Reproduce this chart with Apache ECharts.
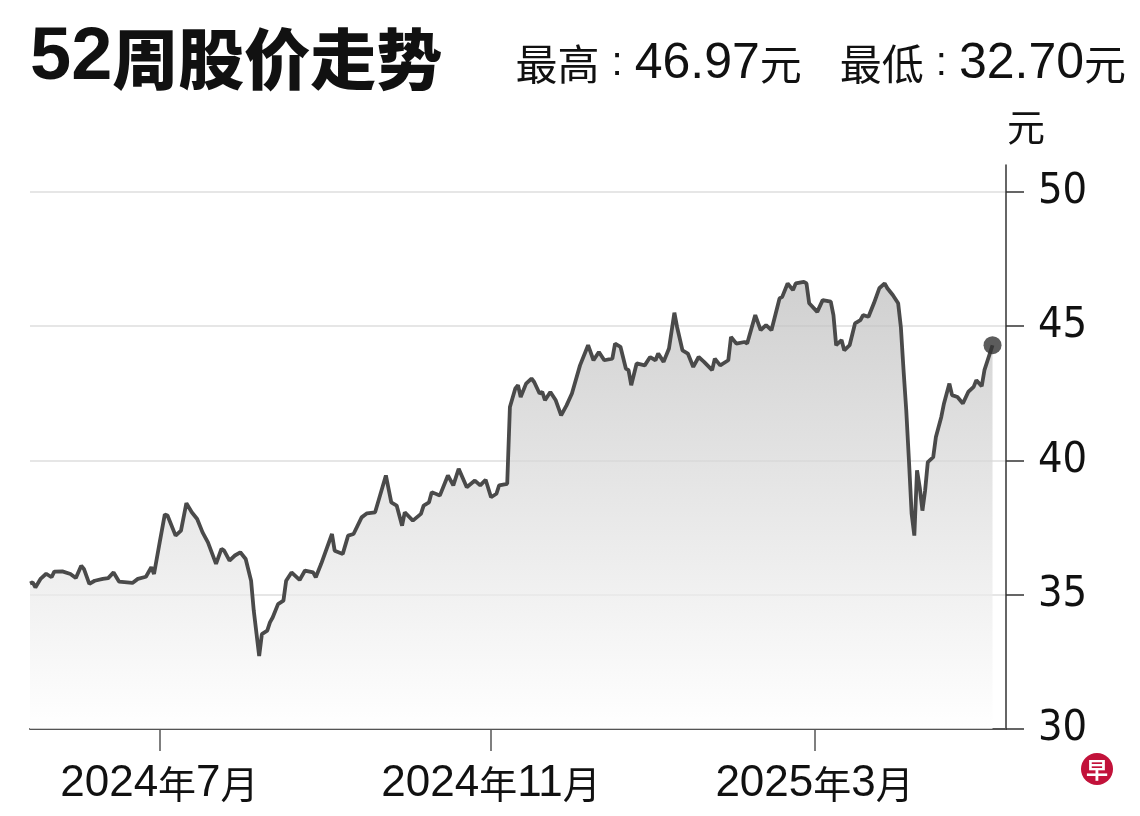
<!DOCTYPE html>
<html>
<head>
<meta charset="utf-8">
<script src="https://cdn.jsdelivr.net/npm/echarts@6/dist/echarts.min.js"></script>
<style>html,body{margin:0;padding:0;background:#fff;}#c{width:1140px;height:816px;}</style>
</head>
<body>
<div id="c"></div>
<script>
const titleText = '52周股价走势';
const highLabel = '46.97';
const lowLabel = '32.70';
const unitLabel = '元';
const yTicks = [30, 35, 40, 45, 50];
const xTickDates = ['2024-07-01', '2024-11-01', '2025-03-01'];

const dates = [
'2024-05-14','2024-05-15','2024-05-16','2024-05-18','2024-05-20','2024-05-22','2024-05-23','2024-05-26','2024-05-29','2024-05-31',
'2024-06-02','2024-06-03','2024-06-05','2024-06-07','2024-06-10','2024-06-12','2024-06-14','2024-06-16','2024-06-21','2024-06-23',
'2024-06-26','2024-06-28','2024-06-29','2024-07-01','2024-07-03','2024-07-04','2024-07-07','2024-07-09','2024-07-11','2024-07-13',
'2024-07-15','2024-07-17','2024-07-19','2024-07-22','2024-07-24','2024-07-25','2024-07-27','2024-07-29','2024-07-31','2024-08-02',
'2024-08-04','2024-08-05','2024-08-07','2024-08-08','2024-08-10','2024-08-11','2024-08-12','2024-08-14','2024-08-16','2024-08-17',
'2024-08-19','2024-08-22','2024-08-24','2024-08-27','2024-08-28','2024-08-30','2024-09-03','2024-09-04','2024-09-07','2024-09-09',
'2024-09-11','2024-09-14','2024-09-16','2024-09-19','2024-09-23','2024-09-25','2024-09-27','2024-09-29','2024-09-30','2024-10-03',
'2024-10-06','2024-10-07','2024-10-09','2024-10-10','2024-10-13','2024-10-16','2024-10-18','2024-10-20','2024-10-23','2024-10-26',
'2024-10-28','2024-10-30','2024-11-01','2024-11-03','2024-11-04','2024-11-07','2024-11-08','2024-11-10','2024-11-11','2024-11-12',
'2024-11-14','2024-11-16','2024-11-17','2024-11-19','2024-11-20','2024-11-21','2024-11-23','2024-11-25','2024-11-27','2024-11-29',
'2024-12-01','2024-12-04','2024-12-07','2024-12-09','2024-12-11','2024-12-13','2024-12-16','2024-12-17','2024-12-19','2024-12-21',
'2024-12-22','2024-12-23','2024-12-25','2024-12-28','2024-12-30','2025-01-01','2025-01-02','2025-01-04','2025-01-06','2025-01-08',
'2025-01-09','2025-01-11','2025-01-13','2025-01-15','2025-01-17','2025-01-19','2025-01-22','2025-01-23','2025-01-25','2025-01-28',
'2025-01-29','2025-01-31','2025-02-03','2025-02-04','2025-02-07','2025-02-09','2025-02-11','2025-02-13','2025-02-16','2025-02-17',
'2025-02-19','2025-02-21','2025-02-22','2025-02-25','2025-02-26','2025-02-27','2025-03-02','2025-03-04','2025-03-07','2025-03-08',
'2025-03-09','2025-03-11','2025-03-12','2025-03-14','2025-03-16','2025-03-18','2025-03-19','2025-03-21','2025-03-23','2025-03-25',
'2025-03-27','2025-03-28','2025-03-30','2025-04-01','2025-04-02','2025-04-03','2025-04-04','2025-04-05','2025-04-06','2025-04-07',
'2025-04-08','2025-04-09','2025-04-10','2025-04-11','2025-04-12','2025-04-14','2025-04-15','2025-04-17','2025-04-18','2025-04-20',
'2025-04-21','2025-04-23','2025-04-25','2025-04-27','2025-04-29','2025-04-30','2025-05-02','2025-05-03','2025-05-06'
];

const prices = [
35.42,35.46,35.27,35.60,35.78,35.65,35.86,35.87,35.77,35.62,
36.08,35.96,35.40,35.52,35.59,35.62,35.83,35.49,35.44,35.59,
35.67,36.02,35.77,36.89,37.99,37.95,37.20,37.39,38.41,38.07,
37.82,37.32,36.95,36.15,36.71,36.64,36.27,36.46,36.58,36.33,
35.52,34.40,32.72,33.53,33.66,33.97,34.15,34.65,34.78,35.52,
35.83,35.55,35.90,35.83,35.65,36.15,37.26,36.64,36.52,37.20,
37.26,37.88,38.03,38.07,39.44,38.44,38.32,37.57,38.07,37.76,
38.01,38.32,38.44,38.82,38.69,39.44,39.07,39.69,39.00,39.25,
39.07,39.28,38.63,38.76,39.07,39.13,41.99,42.68,42.80,42.36,
42.86,43.05,42.92,42.49,42.55,42.24,42.55,42.24,41.68,42.05,
42.49,43.54,44.29,43.73,44.04,43.73,43.79,44.35,44.23,43.42,
43.36,42.80,43.61,43.54,43.85,43.73,43.98,43.67,44.17,45.50,
44.97,44.10,43.98,43.48,43.85,43.67,43.36,43.79,43.54,43.73,
44.60,44.35,44.41,44.35,45.41,44.85,45.04,44.85,46.03,46.09,
46.59,46.34,46.59,46.65,46.59,45.85,45.53,45.97,45.91,45.41,
44.29,44.48,44.10,44.29,45.10,45.22,45.41,45.35,45.85,46.41,
46.59,46.41,46.16,45.85,44.97,43.36,41.87,40.00,38.01,37.20,
39.63,39.00,38.13,38.88,39.94,40.12,40.87,41.62,42.12,42.86,
42.43,42.36,42.12,42.55,42.74,42.99,42.76,43.36,44.29
];

const toTime = s => echarts.time.parse(s).getTime();
const seriesData = dates.map((d, i) => [toTime(d), prices[i]]);
const lastPoint = seriesData[seriesData.length - 1];
const xTickValues = xTickDates.map(toTime);

const CJK = '"Noto Sans CJK SC", sans-serif';
const LAT = '"Liberation Sans", Arial, sans-serif';
const NARROW = '"Liberation Sans Narrow", "DejaVu Sans Condensed", "Liberation Sans", sans-serif';

const chart = echarts.init(document.getElementById('c'), null, {renderer: 'canvas'});
chart.setOption({
  animation: false,
  backgroundColor: '#ffffff',
  grid: {left: 30, right: 134, top: 165, bottom: 87, containLabel: false},
  xAxis: {
    type: 'value',
    min: toTime('2024-05-14'),
    max: toTime('2025-05-11'),
    axisLine: {show: true, lineStyle: {color: '#555', width: 2}},
    axisTick: {show: true, length: 22, lineStyle: {color: '#555', width: 1.5}, customValues: xTickValues},
    axisLabel: {
      show: true,
      customValues: xTickValues,
      margin: 33,
      formatter: function (v) {
        const d = new Date(v);
        return '{n|' + d.getFullYear() + '}{c|年}{n|' + (d.getMonth() + 1) + '}{c|月}';
      },
      rich: {
        n: {fontFamily: LAT, fontSize: 44, color: '#111'},
        c: {fontFamily: CJK, fontSize: 38, color: '#111'}
      }
    },
    splitLine: {show: false}
  },
  yAxis: {
    type: 'value',
    position: 'right',
    min: 30,
    max: 51,
    interval: 5,
    axisLine: {show: true, lineStyle: {color: '#333', width: 1.5}},
    axisTick: {show: true, length: 18, inside: false, lineStyle: {color: '#333', width: 1.5}, customValues: yTicks},
    axisLabel: {show: true, customValues: yTicks, margin: 32, fontFamily: NARROW, fontSize: 43, color: '#111'},
    splitLine: {show: true, lineStyle: {color: '#e6e6e6', width: 2}}
  },
  series: [
    {
      type: 'line',
      data: seriesData,
      showSymbol: false,
      symbol: 'none',
      smooth: false,
      lineStyle: {color: '#4a4a4a', width: 3.8},
      areaStyle: {
        color: {type: 'linear', x: 0, y: 0, x2: 0, y2: 1,
          colorStops: [{offset: 0, color: '#bcbcbc'}, {offset: 1, color: '#ffffff'}]}
      },
      z: 3
    },
    {
      type: 'scatter',
      data: [lastPoint],
      symbol: 'circle',
      symbolSize: 18,
      itemStyle: {color: '#333'},
      z: 5
    }
  ],
  graphic: [
    {
      type: 'text', left: 30, top: 22,
      style: {
        text: '{d|52}{c|' + titleText.slice(2) + '}',
        rich: {
          d: {fontFamily: LAT, fontWeight: 'bold', fontSize: 74, fill: '#111'},
          c: {fontFamily: CJK, fontWeight: 900, fontSize: 66, fill: '#111'}
        }
      }
    },
    {
      type: 'text', right: 14, top: 39,
      style: {
        text: '{c|最高}{p|:}{n|' + highLabel + '}{c|元}{g| }{c|最低}{p|:}{n|' + lowLabel + '}{c|元}',
        rich: {
          c: {fontFamily: CJK, fontSize: 42, fill: '#111'},
          p: {fontFamily: LAT, fontSize: 40, fill: '#111', padding: [0, 12, 0, 12]},
          n: {fontFamily: LAT, fontSize: 50, fill: '#111'},
          g: {fontFamily: LAT, fontSize: 20, width: 38}
        }
      }
    },
    {
      type: 'text', left: 1007, top: 108,
      style: {text: unitLabel, fontFamily: CJK, fontSize: 38, fill: '#111'}
    },
    {
      type: 'group', left: 1081, top: 753,
      children: [
        {type: 'circle', shape: {cx: 16, cy: 16, r: 16}, style: {fill: '#c2123a'}},
        {type: 'text', style: {text: '早', x: 16, y: 17, fontFamily: CJK, fontWeight: 'bold', fontSize: 22, fill: '#fff', align: 'center', verticalAlign: 'middle'}}
      ]
    }
  ]
});
</script>
</body>
</html>
